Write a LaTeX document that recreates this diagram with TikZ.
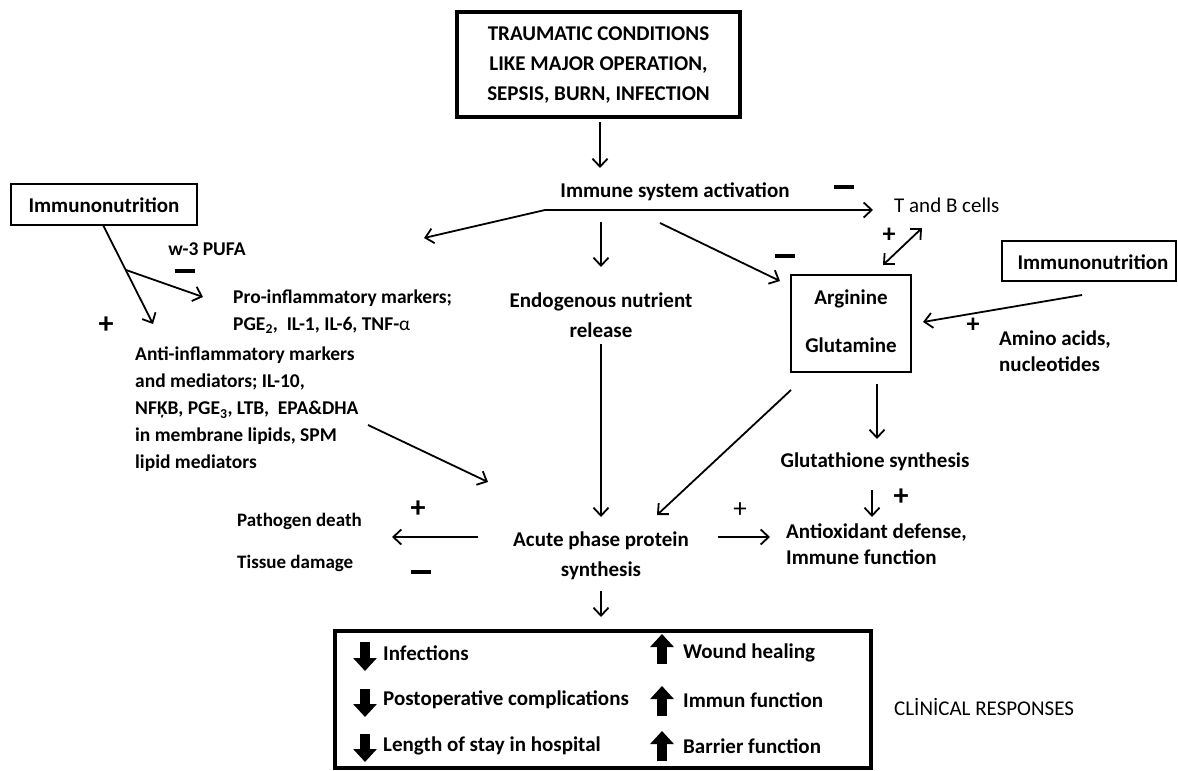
\documentclass[tikz,border=0pt]{standalone}
\usepackage{fontspec}
\setmainfont{Carlito}
\usetikzlibrary{arrows.meta,calc}
\begin{document}
\begin{tikzpicture}[x=1pt,y=-1pt,
  txt/.style={inner sep=0pt, font=\fontsize{21}{30}\selectfont\bfseries, align=center},
  txtl/.style={inner sep=0pt, font=\fontsize{21}{25.5}\selectfont\bfseries, align=left},
  sm/.style={inner sep=0pt, font=\fontsize{19.5}{27}\selectfont\bfseries, align=left},
  tiny/.style={inner sep=0pt, font=\fontsize{19}{22}\selectfont\bfseries, anchor=west},
  reg/.style={inner sep=0pt, font=\fontsize{21}{25}\selectfont},
  thinbox/.style={draw, line width=1.4pt, inner sep=0pt},
  thickbox/.style={draw, line width=3.5pt, inner sep=0pt},
  arr/.style={line width=1.8pt, -{Straight Barb[length=8pt,width=15pt]}},
  arrboth/.style={line width=1.8pt, {Straight Barb[length=8pt,width=15pt]}-{Straight Barb[length=8pt,width=15pt]}},
  blk/.style={line width=10pt, -{Triangle[length=13pt,width=23pt]}},
  minusbar/.style={fill=black, inner sep=0pt, minimum width=20pt, minimum height=4.5pt},
  plusbig/.style={inner sep=0pt, font=\fontsize{30}{30}\selectfont\bfseries},
  plusmid/.style={inner sep=0pt, font=\fontsize{26}{26}\selectfont\bfseries},
  plussm/.style={inner sep=0pt, font=\fontsize{27}{27}\selectfont},
]
\useasboundingbox (0,0) rectangle (1178,771);

% ---- boxes ----
\node[thickbox, minimum width=283pt, minimum height=105pt] (top) at (598.5,64.5) {};
\node[txt] (toptxt) at (598.5,65) {TRAUMATIC CONDITIONS\\LIKE MAJOR OPERATION,\\SEPSIS, BURN, INFECTION};

\node[thinbox, minimum width=186pt, minimum height=41pt] (limm) at (104,204.5) {};
\node[txt] (limmtxt) at (104,205) {Immunonutrition};

\node[thinbox, minimum width=174pt, minimum height=40pt] (rimm) at (1089,261) {};
\node[txt] (rimmtxt) at (1093,262) {Immunonutrition};

\node[thinbox, minimum width=120pt, minimum height=97pt] (arg) at (851,323.5) {};
\node[txt] (argtxt) at (851,299) {Arginine};
\node[txt] (glntxt) at (851,345) {Glutamine};

\node[thickbox, line width=4pt, minimum width=536pt, minimum height=137pt] (clin) at (603,699.5) {};

% ---- texts ----
\node[txt] (immune) at (675,192) {Immune system activation};
\node[reg, anchor=west] (tb) at (894,205) {T and B cells};
\node[txt] (endo) at (601,315) {Endogenous nutrient\\release};
\node[sm, anchor=center] (w3) at (207,249) {w-3 PUFA};
\node[sm, anchor=north west] (pro) at (233,290) {Pro-inflammatory markers;\\PGE\textsubscript{2},\ \ IL-1, IL-6, TNF-{\mdseries α}};
\node[sm, anchor=north west] (anti) at (135,347) {Anti-inflammatory markers\\and mediators; IL-10,\\NFĶB, PGE\textsubscript{3}, LTB,\ \ EPA\&DHA\\in membrane lipids, SPM\\lipid mediators};
\node[txtl, anchor=north west] (amino) at (999,331) {Amino acids,\\nucleotides};
\node[txt] (glut) at (875,462) {Glutathione synthesis};
\node[txtl, anchor=north west] (antiox) at (786,524) {Antioxidant defense,\\Immune function};
\node[txt] (acute) at (601,556) {Acute phase protein\\synthesis};
\node[tiny] (path) at (237,521) {Pathogen death};
\node[tiny] (tis) at (237,563) {Tissue damage};
\node[reg, anchor=west] (clinical) at (894,707) {CLİNİCAL RESPONSES};

\node[txt, anchor=west] (r1) at (383,653) {Infections};
\node[txt, anchor=west] (r2) at (383,700) {Postoperative complications};
\node[txt, anchor=west] (r3) at (383,746) {Length of stay in hospital};
\node[txt, anchor=west] (s1) at (683,653) {Wound healing};
\node[txt, anchor=west] (s2) at (683,700) {Immun function};
\node[txt, anchor=west] (s3) at (683,746) {Barrier function};

% ---- signs ----
\node[minusbar] (m1) at (844,187) {};
\node[minusbar] (m2) at (185,271) {};
\node[minusbar] (m3) at (785,256) {};
\node[minusbar] (m4) at (421,572) {};
\node[plusbig] (p1) at (106,325) {+};
\node[plusmid] (p2) at (889,235) {+};
\node[plusmid] (p3) at (973,325) {+};
\node[plusbig] (p4) at (901,497) {+};
\node[plusbig] (p5) at (418,509) {+};
\node[plussm] (p6) at (740,510) {+};

% ---- connector coordinates ----
\coordinate (c1s) at (600,122);  \coordinate (c1e) at (600,168);
\coordinate (hl) at (424,238);   \coordinate (hc) at (545,210);  \coordinate (hr) at (873,210);
\coordinate (c3s) at (601,222);  \coordinate (c3e) at (601,267);
\coordinate (c4s) at (660,223);  \coordinate (c4e) at (780,281);
\coordinate (c5s) at (883,265);  \coordinate (c5e) at (922,228);
\coordinate (c6s) at (1082,295); \coordinate (c6e) at (923,322);
\coordinate (c7s) at (877,384);  \coordinate (c7e) at (877,439);
\coordinate (c8s) at (872,490);  \coordinate (c8e) at (872,517);
\coordinate (c9s) at (601,344);  \coordinate (c9e) at (601,517);
\coordinate (c10s) at (791,390); \coordinate (c10e) at (657,515);
\coordinate (c11s) at (368,425); \coordinate (c11e) at (488,482);
\coordinate (c12s) at (478,537); \coordinate (c12e) at (392,537);
\coordinate (c13s) at (718,537); \coordinate (c13e) at (770,537);
\coordinate (c14s) at (601,591); \coordinate (c14e) at (601,617);
\coordinate (c15s) at (103,225); \coordinate (c15e) at (153,324);
\coordinate (c16s) at (126,270); \coordinate (c16e) at (203,297);

\draw[arr] (c1s) -- (c1e);
\draw[arrboth] (hl) -- (hc) -- (hr);
\draw[arr] (c3s) -- (c3e);
\draw[arr] (c4s) -- (c4e);
\draw[arrboth] (c5s) -- (c5e);
\draw[arr] (c6s) -- (c6e);
\draw[arr] (c7s) -- (c7e);
\draw[arr] (c8s) -- (c8e);
\draw[arr] (c9s) -- (c9e);
\draw[arr] (c10s) -- (c10e);
\draw[arr] (c11s) -- (c11e);
\draw[arr] (c12s) -- (c12e);
\draw[arr] (c13s) -- (c13e);
\draw[arr] (c14s) -- (c14e);
\draw[arr] (c15s) -- (c15e);
\draw[arr] (c16s) -- (c16e);

% ---- block arrows ----
\coordinate (d1s) at (365,642); \coordinate (d1e) at (365,671);
\coordinate (d2s) at (365,689); \coordinate (d2e) at (365,717);
\coordinate (d3s) at (365,734); \coordinate (d3e) at (365,762);
\coordinate (u1s) at (662,664); \coordinate (u1e) at (662,634);
\coordinate (u2s) at (662,716); \coordinate (u2e) at (662,686);
\coordinate (u3s) at (662,761); \coordinate (u3e) at (662,731);
\foreach \a in {d1,d2,d3,u1,u2,u3} { \draw[blk] (\a s) -- (\a e); }
\end{tikzpicture}
\end{document}
